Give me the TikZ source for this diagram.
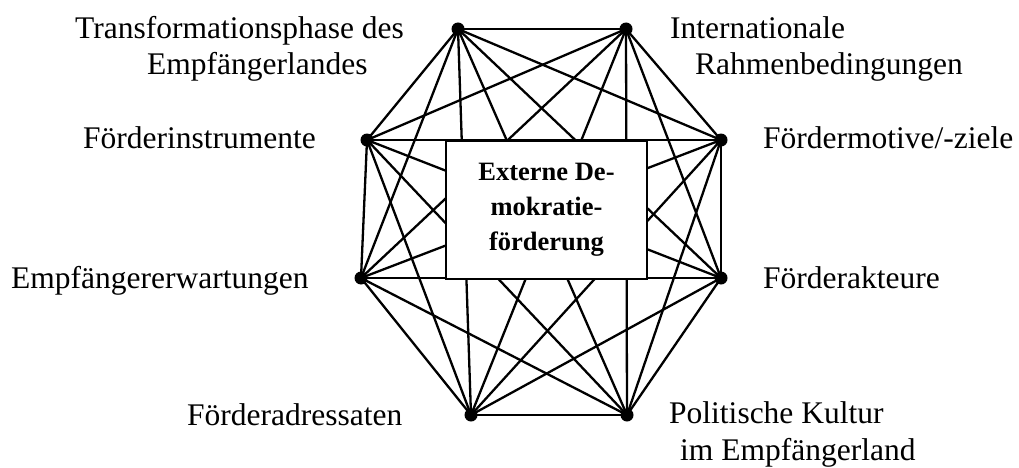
\documentclass[tikz,border=0pt]{standalone}
\usepackage{fontspec}
\setmainfont{Liberation Serif}
\begin{document}
\begin{tikzpicture}[x=1pt,y=-1pt,
  edge/.style={line width=2.3pt},
  dot/.style={circle,fill=black,inner sep=0pt,minimum size=13pt},
  lbl/.style={inner sep=0pt,anchor=base west,font=\fontsize{31.5}{36.5}\selectfont,align=left},
  centerbox/.style={draw,line width=2.3pt,fill=white,minimum width=201pt,minimum height=138pt,inner sep=0pt,
    font=\bfseries\fontsize{26.5}{35}\selectfont,align=center}]
\useasboundingbox (0,0) rectangle (1019,468);
\coordinate (A) at (458,29);
\coordinate (B) at (626,29);
\coordinate (C) at (721,140);
\coordinate (D) at (721,278);
\coordinate (E) at (627,415);
\coordinate (F) at (471,415);
\coordinate (G) at (361,278);
\coordinate (H) at (367,140);
\foreach \a/\b in {A/B,A/C,A/D,A/E,A/F,A/G,A/H,
                   B/C,B/D,B/E,B/F,B/G,B/H,
                   C/D,C/E,C/F,C/G,C/H,
                   D/E,D/F,D/G,D/H,
                   E/F,E/G,E/H,
                   F/G,F/H,
                   G/H}
  \draw[edge] (\a) -- (\b);
\node[centerbox] (box) at (546.5,210) {Externe De-\\mokratie-\\förderung};
\foreach \p in {A,B,C,D,E,F,G,H}
  \node[dot] (d\p) at (\p) {};
\node[lbl] (lA) at (75,75) {Transformationsphase des\\\hspace*{72pt}Empfängerlandes};
\node[lbl] (lB) at (670,75) {Internationale\\\hspace*{25pt}Rahmenbedingungen};
\node[lbl] (lH) at (83,148) {Förderinstrumente};
\node[lbl] (lC) at (763,148) {Fördermotive/-ziele};
\node[lbl] (lG) at (11,288) {Empfängererwartungen};
\node[lbl] (lD) at (763,288) {Förderakteure};
\node[lbl] (lF) at (187,425) {Förderadressaten};
\node[lbl] (lE) at (669,460) {Politische Kultur\\\hspace*{11pt}im Empfängerland};
\end{tikzpicture}
\end{document}
